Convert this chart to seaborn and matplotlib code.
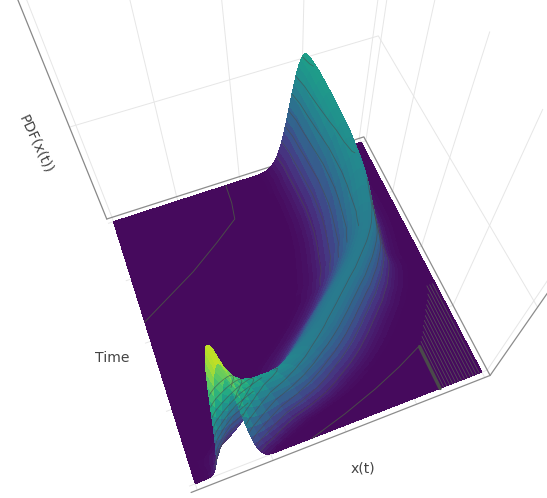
import numpy as np
import matplotlib
matplotlib.use("Agg")
import matplotlib.pyplot as plt
import seaborn as sns

# every time slice of the density
time_values = [0, .012, .025, .04, .06, .08, .10, .12, .14, .16, .18, .20, .22, .24, .26, .28, .30,
               .325, .35, .375, .40, .425, .45, .475, .50, .55, .60, .65, .70, .75, .80, .85, .90, .95, 1.0]
ridge_x = [.14, .152, .17, .195, .23, .285, .33, .368, .40, .432, .46, .487, .51, .533, .555, .578, .60,
           .63, .655, .68, .70, .72, .735, .745, .755, .765, .775, .78, .78, .78, .775, .77, .765, .76, .75]
ridge_height = [1.0, .86, .74, .64, .56, .50, .46, .445, .43, .42, .415, .41, .41, .41, .41, .41, .41,
                .41, .41, .41, .415, .415, .42, .428, .435, .45, .465, .48, .495, .51, .525, .54, .55, .56, .57]
left_spread = [.03, .035, .04, .05, .06, .07, .078, .085, .09, .095, .095, .095, .095, .09, .09, .09, .088,
               .086, .084, .082, .08, .078, .075, .075, .072, .07, .068, .065, .062, .06, .058, .056, .055, .053, .052]
right_spread = [.035, .04, .047, .052, .06, .07, .078, .08, .082, .084, .085, .085, .085, .085, .084, .083, .082,
                .08, .077, .075, .072, .069, .066, .062, .058, .058, .058, .058, .058, .058, .058, .059, .06, .061, .062]
profile_offset = [3.4, 3.0, 2.7, 2.4, 2.2, 2.0, 1.8, 1.6, 1.4, 1.2, 1.0, .85, .7, .55, .4, .25, .1, 0]
profile_height = [.003, .011, .026, .056, .089, .135, .198, .278, .375, .487, .607, .697, .783, .86, .923, .969, .995, 1.0]
contour_levels = [.08, .16, .24, .32, .40, .48, .56, .64, .72]
front_contour_x = [.39, .52, .645, .75, .839]
front_contour_t = [0, .035, .075, .115, .155]
back_contour_x = [0, .213, .33, .423, .435, .439]
back_contour_t = [.575, .698, .78, .85, .92, 1]
band_x = [.845, .845]
band_t = [0, .155]
stripe_x = [.858, .869, .88, .891, .902, .913, .924, .935, .946, .957, .968, .979, .99]
stripe_end_t = [.17, .185, .20, .22, .235, .25, .27, .285, .30, .32, .35, .35, .35]
frame_x = [-.02, 1.02, 1.02, -.02]
frame_t = [-.02, -.02, 1.02, 1.02]
corner_z = [0, 1.03]

t_arr = np.array(time_values)
rows_x, rows_z = [], []
off = np.array(profile_offset)
hgt = np.array(profile_height)
for m, a, sl, sr in zip(ridge_x, ridge_height, left_spread, right_spread):
    rows_x.append(np.r_[0, m - off * sl, m + off[-2::-1] * sr, 1])
    rows_z.append(np.r_[0, a * hgt, a * hgt[-2::-1], 0])
X = np.array(rows_x)
Z = np.array(rows_z)
T = np.repeat(t_arr[:, None], X.shape[1], axis=1)
peak_col = len(off)
columns = np.arange(X.shape[1])[None, :]
# contours are only drawn on the slopes the viewer can see
left_hidden = (columns < peak_col) & (T > .08) & (T < .45)
right_hidden = (columns > peak_col) & (T > .62)
Z_lines = np.ma.masked_where(left_hidden | right_hidden, Z)

sns.set_theme(style="white")
plt.rcParams["font.family"] = ["DejaVu Sans"]
fig = plt.figure(figsize=(5.47, 4.98), dpi=100, facecolor="white")
ax = fig.add_axes([-122.8 / 547, -126.8 / 498, 800 / 547, 800 / 498], projection="3d", computed_zorder=False)
ax.set_proj_type("persp", focal_length=0.181)
ax.view_init(elev=60, azim=-111)
ax.set_box_aspect((1, 1, 1.068), zoom=0.771)
ax.patch.set_alpha(0)

for axis in (ax.xaxis, ax.yaxis, ax.zaxis):
    axis.set_pane_color((1, 1, 1, 0))
    axis.pane.set_edgecolor((1, 1, 1, 0))
    axis._axinfo["grid"].update(color="#e6e6e6", linewidth=0.7)
    axis._axinfo["tick"].update(color=(1, 1, 1, 0), inward_factor=0.0, outward_factor=0.0)
    axis.line.set_color((1, 1, 1, 0))
ax.zaxis.line.set_color("#888888")
ax.zaxis.line.set_linewidth(0.9)

cmap = sns.color_palette("viridis", as_cmap=True)
ax.plot(frame_x, frame_t, [0] * 4, color="#8c8c8c", lw=0.9, zorder=0.5)
ax.plot([frame_x[1], frame_x[1]], [frame_t[1], frame_t[1]], corner_z, color="#8c8c8c", lw=0.9, zorder=0.5)
ax.plot_surface(X, T, Z, cmap=cmap, vmin=-.025, vmax=1.03, rstride=1, cstride=1,
                linewidth=0, antialiased=False, shade=False, zorder=1)
ax.contour(X, T, Z_lines, levels=contour_levels, colors="#4a4a4a", linewidths=0.6, alpha=0.6, zorder=2)
ax.plot(front_contour_x, front_contour_t, [0] * len(front_contour_x), color="#4a4a4a", lw=0.7, zorder=2)
ax.plot(back_contour_x, back_contour_t, [0] * len(back_contour_x), color="#4a4a4a", lw=0.7, zorder=2)
ax.plot(band_x, band_t, [0, 0], color="#4a4a4a", lw=2.5, zorder=2)
for sx, st in zip(stripe_x, stripe_end_t):
    ax.plot([sx, sx], [0, st], [0, 0], color="#5a5a5a", lw=0.6, alpha=0.8, zorder=2)

ax.set_xlim(-.02, 1.02, view_margin=0)
ax.set_ylim(-.02, 1.02, view_margin=0)
ax.set_zlim(0, 1.03, view_margin=0)
ax.set_xticks([0, .25, .5, .75, 1])
ax.set_yticks([0, .25, .5, .75, 1])
ax.set_zticks([.53])
ax.set_xticklabels([])
ax.set_yticklabels([])
ax.set_zticklabels([])

label = dict(color="#444444", fontsize=10.1, ha="center", va="center")
fig.text(363 / 547, 1 - 468 / 498, "x(t)", **label)
fig.text(112 / 547, 1 - 358 / 498, "Time", **label)
fig.text(36 / 547, 1 - 144 / 498, "PDF(x(t))", rotation=-65, rotation_mode="anchor", **label)

fig.savefig("out.png", dpi=100)
